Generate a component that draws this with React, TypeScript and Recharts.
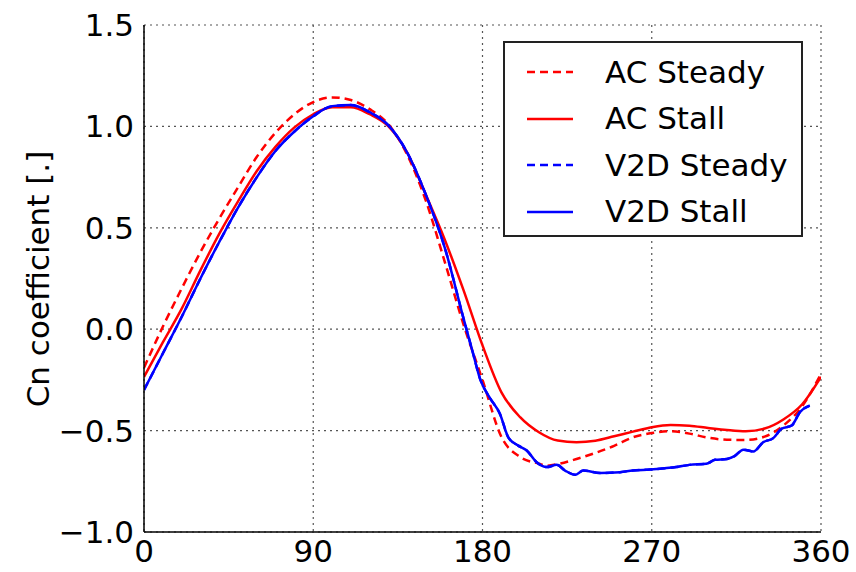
import React from 'react';
import { LineChart, Line, XAxis, YAxis, CartesianGrid, Legend } from 'recharts';

const xTicks = [0, 90, 180, 270, 360];
const yTicks = [-1.0, -0.5, 0.0, 0.5, 1.0, 1.5];

const acSteadyAngle = [0, 10, 20, 30, 40, 50, 60, 70, 80, 90, 100, 110, 120, 130, 140, 150, 160, 170, 180, 190, 200, 210, 214, 220, 230, 240, 250, 260, 270, 280, 290, 300, 310, 320, 330, 340, 350, 360];
const acSteadyCn = [-0.19, 0.012, 0.2, 0.38, 0.545, 0.7, 0.85, 0.97, 1.06, 1.12, 1.143, 1.13, 1.085, 1.01, 0.86, 0.63, 0.33, 0.02, -0.25, -0.53, -0.63, -0.663, -0.673, -0.665, -0.64, -0.61, -0.575, -0.533, -0.512, -0.503, -0.515, -0.535, -0.545, -0.546, -0.53, -0.475, -0.38, -0.22];

const acStallAngle = [0, 10, 20, 30, 40, 50, 60, 70, 80, 90, 100, 110, 120, 130, 140, 150, 160, 170, 180, 190, 200, 210, 220, 230, 240, 250, 260, 270, 280, 290, 300, 310, 320, 330, 340, 350, 360];
const acStallCn = [-0.235, -0.065, 0.1, 0.29, 0.47, 0.63, 0.78, 0.9, 0.995, 1.06, 1.095, 1.095, 1.06, 1.0, 0.87, 0.66, 0.44, 0.19, -0.08, -0.31, -0.434, -0.508, -0.549, -0.557, -0.55, -0.528, -0.505, -0.483, -0.472, -0.476, -0.487, -0.497, -0.503, -0.49, -0.445, -0.37, -0.235];

const v2dSteadyAngle = [0, 10, 20, 30, 40, 50, 60, 70, 80, 90, 100, 110, 120, 130, 140, 150, 160, 170, 175, 178.7, 184, 189.3, 193.7, 199, 203.5, 208.8, 214.1, 219.5, 223.9, 229.2, 233.6, 242.5, 253.1, 260, 269, 283, 290, 299, 303.6, 310, 314, 318.7, 324, 329.3, 334.6, 339, 344.4, 348.8, 354];
const v2dSteadyCn = [-0.3, -0.12, 0.06, 0.25, 0.43, 0.6, 0.75, 0.88, 0.975, 1.05, 1.1, 1.105, 1.07, 1.005, 0.87, 0.66, 0.4, 0.05, -0.12, -0.245, -0.34, -0.418, -0.533, -0.574, -0.598, -0.656, -0.68, -0.669, -0.697, -0.718, -0.697, -0.709, -0.705, -0.697, -0.692, -0.68, -0.669, -0.664, -0.644, -0.64, -0.626, -0.594, -0.603, -0.557, -0.537, -0.491, -0.475, -0.409, -0.377];

const v2dStallAngle = [0, 10, 20, 30, 40, 50, 60, 70, 80, 90, 100, 110, 120, 130, 140, 150, 160, 170, 175, 178.7, 184, 189.3, 193.7, 199, 203.5, 208.8, 214.1, 219.5, 223.9, 229.2, 233.6, 242.5, 253.1, 260, 269, 283, 290, 299, 303.6, 310, 314, 318.7, 324, 329.3, 334.6, 339, 344.4, 348.8, 354];
const v2dStallCn = [-0.3, -0.12, 0.06, 0.25, 0.43, 0.6, 0.75, 0.88, 0.975, 1.05, 1.1, 1.105, 1.07, 1.005, 0.87, 0.66, 0.4, 0.05, -0.12, -0.245, -0.34, -0.418, -0.533, -0.574, -0.598, -0.656, -0.68, -0.669, -0.697, -0.718, -0.697, -0.709, -0.705, -0.697, -0.692, -0.68, -0.669, -0.664, -0.644, -0.64, -0.626, -0.594, -0.603, -0.557, -0.537, -0.491, -0.475, -0.409, -0.377];

const seriesNames = ['AC Steady', 'AC Stall', 'V2D Steady', 'V2D Stall'];

const zip = (a: number[], b: number[]) => a.map((x, i) => ({ x, y: b[i] }));

const FONT = '"DejaVu Sans", sans-serif';
const RED = '#ff0000';
const BLUE = '#0000ff';

const series = [
  { name: seriesNames[0], data: zip(acSteadyAngle, acSteadyCn), color: RED, dash: '8 5' },
  { name: seriesNames[1], data: zip(acStallAngle, acStallCn), color: RED, dash: undefined },
  { name: seriesNames[2], data: zip(v2dSteadyAngle, v2dSteadyCn), color: BLUE, dash: '8 5' },
  { name: seriesNames[3], data: zip(v2dStallAngle, v2dStallCn), color: BLUE, dash: undefined },
];

const fmtY = (v: number) => {
  const s = Math.abs(v).toFixed(1);
  return v < 0 ? '\u2212' + s : s;
};

const YLabel = () => (
  <text
    x={38}
    y={279}
    transform="rotate(-90 38 279)"
    textAnchor="middle"
    dominantBaseline="central"
    fontFamily={FONT}
    fontSize={31}
    fill="#000"
  >
    Cn coefficient [.]
  </text>
);

const LegendBox = () => (
  <div
    style={{
      width: 300,
      height: 196,
      boxSizing: 'border-box',
      border: '2px solid #222',
      background: '#fff',
      fontFamily: FONT,
      fontSize: 31,
      color: '#000',
      paddingTop: 6,
    }}
  >
    {series.map((s) => (
      <div key={s.name} style={{ height: 46.5, display: 'flex', alignItems: 'center' }}>
        <svg width={100} height={20} style={{ display: 'block' }}>
          <line x1={22} y1={10} x2={68} y2={10} stroke={s.color} strokeWidth={2.5} strokeDasharray={s.dash} />
        </svg>
        <span style={{ lineHeight: 1 }}>{s.name}</span>
      </div>
    ))}
  </div>
);

export default function App() {
  return (
    <div style={{ position: 'absolute', left: 0, top: 0, background: '#fff' }}>
      <LineChart width={856} height={572} margin={{ top: 25, right: 35, bottom: 0, left: 0 }}>
        <CartesianGrid stroke="#555" strokeDasharray="2 4" strokeWidth={1.2} />
        <XAxis
          dataKey="x"
          type="number"
          domain={[0, 360]}
          ticks={xTicks}
          allowDataOverflow
          height={40}
          tickLine={false}
          tickSize={4}
          tickMargin={4}
          axisLine={{ stroke: '#000', strokeWidth: 1.5 }}
          tick={{ fill: '#000', fontSize: 31, fontFamily: FONT }}
          interval={0}
        />
        <XAxis
          xAxisId="top"
          orientation="top"
          dataKey="x"
          type="number"
          domain={[0, 360]}
          height={0}
          tick={false}
          tickLine={false}
          axisLine={{ stroke: '#000', strokeWidth: 1.5 }}
        />
        <YAxis
          type="number"
          domain={[-1, 1.5]}
          ticks={yTicks}
          allowDataOverflow
          width={144}
          tickLine={false}
          tickSize={4}
          tickMargin={6}
          tickFormatter={fmtY}
          axisLine={{ stroke: '#000', strokeWidth: 1.5 }}
          tick={{ fill: '#000', fontSize: 31, fontFamily: FONT }}
          interval={0}
          label={<YLabel />}
        />
        <YAxis
          yAxisId="right"
          orientation="right"
          type="number"
          domain={[-1, 1.5]}
          width={0}
          tick={false}
          tickLine={false}
          axisLine={{ stroke: '#000', strokeWidth: 1.5 }}
        />
        <Legend
          layout="vertical"
          align="center"
          verticalAlign="middle"
          content={() => <LegendBox />}
          wrapperStyle={{ position: 'absolute', left: 503, top: 41, width: 300, height: 196 }}
        />
        {series.map((s) => (
          <Line
            key={s.name}
            name={s.name}
            data={s.data}
            dataKey="y"
            type="monotone"
            stroke={s.color}
            strokeWidth={2.5}
            strokeDasharray={s.dash}
            dot={false}
            activeDot={false}
            isAnimationActive={false}
          />
        ))}
      </LineChart>
    </div>
  );
}
